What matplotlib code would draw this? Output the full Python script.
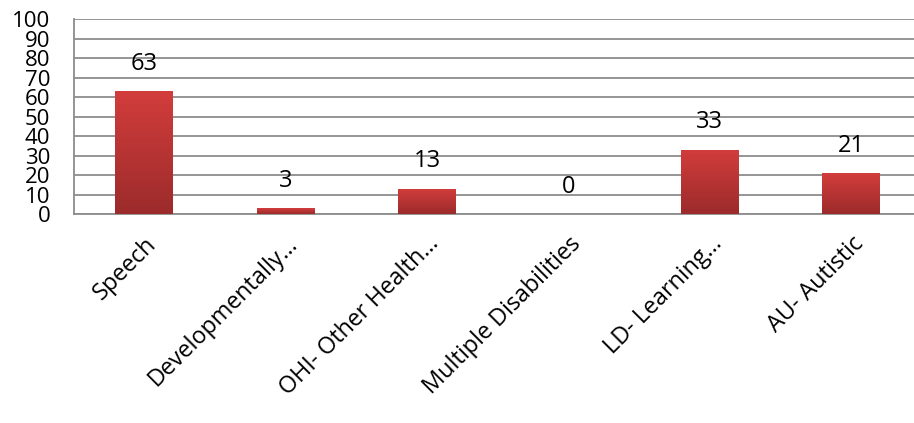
import matplotlib.pyplot as plt
import numpy as np
from matplotlib.colors import LinearSegmentedColormap

# data
categories = ['Speech', 'Developmentally…', 'OHI- Other Health…',
              'Multiple Disabilities', 'LD- Learning…', 'AU- Autistic']
values = [63, 3, 13, 0, 33, 21]
yticks = list(range(0, 101, 10))

plt.rcParams['font.family'] = ['Open Sans', 'DejaVu Sans']

fig = plt.figure(figsize=(9.14, 4.23), dpi=100)
ax = fig.add_axes([0.0807, 0.494, 0.928, 0.461])

x = np.arange(len(categories))
bars = ax.bar(x, values, width=0.41, color='#c0393a', zorder=2)

# vertical red gradient on each bar (darker at the bottom)
cmap = LinearSegmentedColormap.from_list('redgrad', ['#9c2b2b', '#d23d3c'])
grad = np.linspace(0, 1, 256).reshape(-1, 1)
for b in bars:
    h = b.get_height()
    if h <= 0:
        continue
    im = ax.imshow(grad, cmap=cmap, origin='lower', aspect='auto', zorder=3,
                   extent=[b.get_x(), b.get_x() + b.get_width(), 0, h])
    im.set_clip_path(b)

for xi, v in zip(x, values):
    ax.annotate(str(v), (xi, v), xytext=(0, 11), textcoords='offset points',
                ha='center', va='bottom', fontsize=17)

ax.set_xlim(-0.5, len(categories) - 0.5)
ax.set_ylim(0, 100)
ax.set_yticks(yticks)
ax.set_yticklabels([str(t) for t in yticks], fontsize=16)
ax.tick_params(axis='y', length=0, pad=17)
ax.set_xticks(x)
ax.set_xticklabels(categories, fontsize=16.8, rotation=45, ha='right',
                   rotation_mode='anchor')
ax.tick_params(axis='x', length=0, pad=13)

ax.grid(axis='y', color='#8c8c8c', linewidth=1.3, zorder=0)
ax.set_axisbelow(True)
for s in ['top', 'right']:
    ax.spines[s].set_visible(False)
for s in ['left', 'bottom']:
    ax.spines[s].set_color('#8c8c8c')
    ax.spines[s].set_linewidth(1.3)

fig.savefig('out.png', dpi=100)
